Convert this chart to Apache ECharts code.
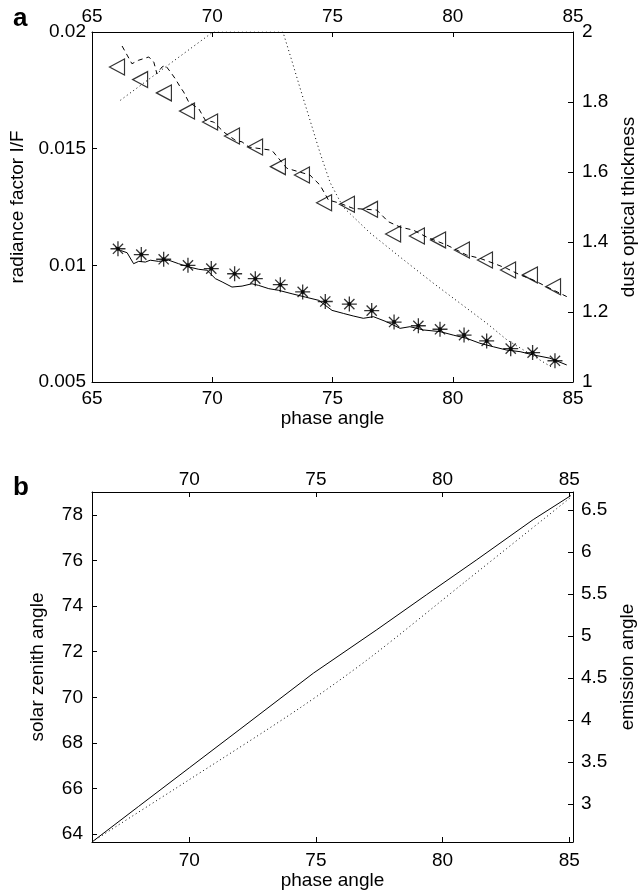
<!DOCTYPE html>
<html><head><meta charset="utf-8">
<script src="https://cdn.jsdelivr.net/npm/echarts@6/dist/echarts.min.js"></script>
<style>html,body{margin:0;padding:0;background:#fff}#c{width:640px;height:894px}</style>
</head><body><div id="c"></div><script>
// ---- Panel a data ----
const triPhase = [66.04, 67.0, 67.99, 68.95, 69.91, 70.82, 71.78, 72.73, 73.73, 74.65, 75.6, 76.56, 77.52, 78.51, 79.39, 80.38, 81.34, 82.3, 83.21, 84.17];
const triIF = [0.0185, 0.01796, 0.01739, 0.01661, 0.01614, 0.01554, 0.01507, 0.01423, 0.01387, 0.01268, 0.01262, 0.0124, 0.01134, 0.01126, 0.01109, 0.01066, 0.01023, 0.0098, 0.00959, 0.00908];
const astPhase = [66.08, 67.05, 67.98, 68.99, 69.96, 70.93, 71.79, 72.83, 73.76, 74.7, 75.7, 76.63, 77.56, 78.57, 79.47, 80.47, 81.41, 82.41, 83.32, 84.25];
const astIF = [0.01071, 0.01046, 0.01026, 0.0100, 0.00986, 0.00964, 0.00943, 0.00917, 0.00886, 0.00845, 0.00834, 0.00806, 0.00757, 0.00741, 0.00726, 0.00701, 0.00676, 0.00643, 0.00626, 0.00591];
const solidPhaseA = [65.96, 66.18, 66.46, 66.73, 66.94, 67.22, 67.42, 67.77, 68.19, 68.6, 69.02, 69.44, 69.78, 70.13, 70.41, 70.82, 71.24, 71.65, 71.93, 72.35, 72.76, 73.32, 73.87, 74.43, 74.98, 75.45, 75.86, 76.28, 76.7, 77.25, 77.81, 78.22, 78.78, 79.47, 80.02, 80.58, 81.13, 81.69, 82.24, 82.8, 83.35, 84.04, 84.74];
const solidIF = [0.0108, 0.01064, 0.01054, 0.01007, 0.01017, 0.01014, 0.01022, 0.01017, 0.01022, 0.01007, 0.00993, 0.00983, 0.00979, 0.00943, 0.00929, 0.00907, 0.00911, 0.00921, 0.00914, 0.009, 0.00893, 0.00878, 0.00864, 0.0085, 0.00807, 0.00794, 0.00783, 0.00773, 0.0078, 0.00758, 0.0073, 0.00737, 0.00723, 0.00716, 0.00701, 0.00687, 0.00666, 0.00651, 0.00637, 0.0063, 0.00616, 0.00602, 0.00573];
const dashPhaseA = [66.25, 66.46, 66.66, 66.94, 67.15, 67.36, 67.57, 67.7, 67.91, 68.05, 68.26, 68.46, 68.67, 68.81, 69.02, 69.44, 69.71, 70.06, 70.48, 70.96, 71.24, 71.52, 72.48, 73.1, 74.06, 74.48, 74.83, 75.31, 75.86, 76.84, 77.32, 77.81, 78.36, 78.92, 79.75, 80.16, 80.58, 81.13, 81.69, 82.24, 82.8, 83.35, 83.91, 84.74];
const dashIF = [0.0194, 0.01901, 0.01864, 0.01879, 0.01886, 0.01893, 0.01871, 0.01821, 0.0185, 0.01857, 0.01829, 0.018, 0.01764, 0.01743, 0.017, 0.01671, 0.01622, 0.01614, 0.01571, 0.01536, 0.01529, 0.01507, 0.01493, 0.01416, 0.01387, 0.01344, 0.0128, 0.01266, 0.01244, 0.01237, 0.01187, 0.01164, 0.01151, 0.01121, 0.01087, 0.01066, 0.01044, 0.0103, 0.01009, 0.00987, 0.00959, 0.00937, 0.00908, 0.00866];
const dotPhaseA = [66.18, 70.03, 72.94, 73.3, 73.65, 74.06, 74.48, 74.9, 75.44, 76.56, 77.81, 79.18, 81.41, 82.26, 84.17];
const dotTau = [1.805, 2.0, 2.0, 1.92, 1.84, 1.749, 1.655, 1.57, 1.50, 1.426, 1.357, 1.283, 1.168, 1.12, 1.04];
const xTicksA = [65, 70, 75, 80, 85];
// ---- Panel b data ----
const solidPhaseB = [66.16, 68.0, 70.0, 72.0, 74.9, 77.4, 79.37, 81.35, 83.58, 85.06];
const szaB = [63.66, 65.22, 66.91, 68.6, 71.06, 72.96, 74.5, 76.03, 77.79, 78.84];
const dotPhaseB = [66.16, 70.0, 74.35, 77.13, 80.95, 85.02];
const emisB = [2.55, 3.29, 4.14, 4.74, 5.66, 6.64];
const xTicksB = [70, 75, 80, 85];
const szaTicks = [64, 66, 68, 70, 72, 74, 76, 78];
const emisTicks = [3, 3.5, 4, 4.5, 5, 5.5, 6, 6.5];

const zip = (a, b) => a.map((v, i) => [v, b[i]]);
const FONT = 'Liberation Sans, Arial, Helvetica, sans-serif';
const FS = 19;
const lineAx = {show: true, lineStyle: {color: '#000', width: 1}};
const tick = (extra) => Object.assign({show: true, inside: true, length: 5, lineStyle: {color: '#000'}}, extra || {});
const lbl = (extra) => Object.assign({color: '#000', fontSize: FS, fontFamily: FONT}, extra || {});
const nameStyle = {color: '#000', fontSize: FS, fontFamily: FONT};

const asterisk = 'path://M5,0L5,10M0,5L10,5M1.6,1.6L8.4,8.4M1.6,8.4L8.4,1.6';
const leftTri = 'path://M0,5L10,0L10,10Z';

const option = {
  animation: false,
  backgroundColor: '#fff',
  textStyle: {fontFamily: FONT},
  grid: [
    {left: 92, top: 32, width: 481, height: 350, containLabel: false, outerBoundsMode: 'none'},
    {left: 92, top: 492, width: 481, height: 350, containLabel: false, outerBoundsMode: 'none'}
  ],
  graphic: [
    {type: 'text', left: 13, top: 6, style: {text: 'a', font: 'bold 26px ' + FONT, fill: '#000'}},
    {type: 'text', left: 13, top: 475, style: {text: 'b', font: 'bold 26px ' + FONT, fill: '#000'}}
  ],
  xAxis: [
    {gridIndex: 0, type: 'value', position: 'bottom', min: 65, max: 85, interval: 5,
     axisLine: lineAx, axisTick: tick(), splitLine: {show: false},
     axisLabel: lbl({margin: 7}), name: 'phase angle', nameLocation: 'middle', nameGap: 19, nameTextStyle: nameStyle},
    {gridIndex: 0, type: 'value', position: 'top', min: 65, max: 85, interval: 5,
     axisLine: lineAx, axisTick: tick(), splitLine: {show: false},
     axisLabel: lbl({margin: 6})},
    {gridIndex: 1, type: 'value', position: 'bottom', min: 66.16, max: 85.15,
     axisLine: lineAx, axisTick: tick({customValues: xTicksB}), splitLine: {show: false},
     axisLabel: lbl({margin: 9, customValues: xTicksB}), name: 'phase angle', nameLocation: 'middle', nameGap: 27, nameTextStyle: nameStyle},
    {gridIndex: 1, type: 'value', position: 'top', min: 66.16, max: 85.15,
     axisLine: lineAx, axisTick: tick({customValues: xTicksB}), splitLine: {show: false},
     axisLabel: lbl({margin: 3, customValues: xTicksB})}
  ],
  yAxis: [
    {gridIndex: 0, type: 'value', position: 'left', min: 0.005, max: 0.02, interval: 0.005,
     axisLine: lineAx, axisTick: tick(), splitLine: {show: false},
     axisLabel: lbl({margin: 6}), name: 'radiance factor I/F', nameLocation: 'middle', nameGap: 62, nameTextStyle: nameStyle},
    {gridIndex: 0, type: 'value', position: 'right', min: 1, max: 2, interval: 0.2,
     axisLine: lineAx, axisTick: tick(), splitLine: {show: false},
     axisLabel: lbl({margin: 9}), name: 'dust optical thickness', nameLocation: 'middle', nameGap: 43, nameTextStyle: nameStyle},
    {gridIndex: 1, type: 'value', position: 'left', min: 63.66, max: 79.0,
     axisLine: lineAx, axisTick: tick({customValues: szaTicks}), splitLine: {show: false},
     axisLabel: lbl({margin: 9, customValues: szaTicks}), name: 'solar zenith angle', nameLocation: 'middle', nameGap: 45, nameTextStyle: nameStyle},
    {gridIndex: 1, type: 'value', position: 'right', min: 2.548, max: 6.714,
     axisLine: lineAx, axisTick: tick({customValues: emisTicks}), splitLine: {show: false},
     axisLabel: lbl({margin: 8, customValues: emisTicks}), name: 'emission angle', nameLocation: 'middle', nameGap: 42, nameTextStyle: nameStyle}
  ],
  series: [
    {type: 'line', xAxisIndex: 0, yAxisIndex: 1, data: zip(dotPhaseA, dotTau), showSymbol: false, symbol: 'none',
     lineStyle: {color: '#000', width: 1, type: [1, 3]}},
    {type: 'line', xAxisIndex: 0, yAxisIndex: 0, data: zip(dashPhaseA, dashIF), showSymbol: false, symbol: 'none',
     lineStyle: {color: '#000', width: 1, type: [5, 4]}},
    {type: 'line', xAxisIndex: 0, yAxisIndex: 0, data: zip(solidPhaseA, solidIF), showSymbol: false, symbol: 'none',
     lineStyle: {color: '#000', width: 1}},
    {type: 'scatter', xAxisIndex: 0, yAxisIndex: 0, data: zip(triPhase, triIF), symbol: leftTri, symbolSize: [15, 16], symbolKeepAspect: false,
     itemStyle: {color: 'rgba(0,0,0,0)', borderColor: '#000', borderWidth: 1.2}},
    {type: 'scatter', xAxisIndex: 0, yAxisIndex: 0, data: zip(astPhase, astIF), symbol: asterisk, symbolSize: 15,
     itemStyle: {color: 'rgba(0,0,0,0)', borderColor: '#000', borderWidth: 1.3}},
    {type: 'scatter', xAxisIndex: 0, yAxisIndex: 0, data: zip(astPhase, astIF), symbol: 'circle', symbolSize: 4,
     itemStyle: {color: '#000'}},
    {type: 'line', xAxisIndex: 2, yAxisIndex: 2, data: zip(solidPhaseB, szaB), showSymbol: false, symbol: 'none',
     lineStyle: {color: '#000', width: 1}},
    {type: 'line', xAxisIndex: 2, yAxisIndex: 3, data: zip(dotPhaseB, emisB), showSymbol: false, symbol: 'none', smooth: 0.3,
     lineStyle: {color: '#000', width: 1, type: [1, 3]}}
  ]
};
const chart = echarts.init(document.getElementById('c'), null, {renderer: 'canvas'});
chart.setOption(option);
</script></body></html>
